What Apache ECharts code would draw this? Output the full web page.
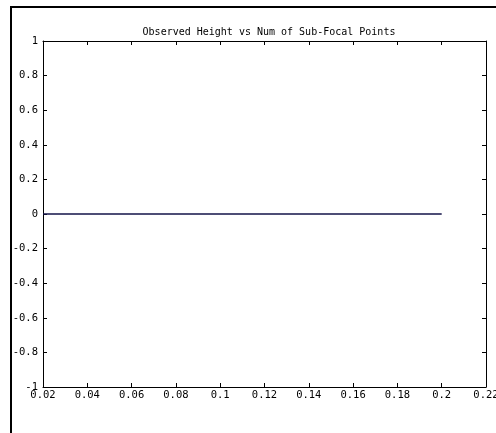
<!DOCTYPE html>
<html><head><meta charset="utf-8">
<script src="https://cdn.jsdelivr.net/npm/echarts@6/dist/echarts.min.js"></script>
<style>html,body{margin:0;padding:0;background:#fff;}#c{width:496px;height:433px;}</style>
</head><body><div id="c"></div>
<script>
const titleText = "Observed Height vs Num of Sub-Focal Points";
const xValues = [0.02, 0.04, 0.06, 0.08, 0.1, 0.12, 0.14, 0.16, 0.18, 0.2];
const heights = [0, 0, 0, 0, 0, 0, 0, 0, 0, 0];
const xTicks = [0.02, 0.22, 0.02]; // min, max, step
const yTicks = [-1, 1, 0.2];

const font = 'DejaVu Sans Mono';
const fmt = v => String(parseFloat(Number(v).toFixed(2)));
const chart = echarts.init(document.getElementById('c'), null, {renderer: 'canvas'});
const axisCommon = {
  axisLine: {show: true, onZero: false, lineStyle: {color: '#000', width: 1}},
  axisTick: {show: true, inside: true, length: 4, lineStyle: {color: '#000'}},
  splitLine: {show: false}
};
chart.setOption({
  animation: false,
  backgroundColor: '#fff',
  title: {text: titleText, left: 264, textAlign: 'center', top: 22,
    textStyle: {fontFamily: font, fontSize: 10, fontWeight: 'normal', color: '#000'}},
  grid: {left: 43, top: 41, right: 10, bottom: 46, containLabel: false, outerBoundsMode: 'none'},
  xAxis: [
    Object.assign({type: 'value', position: 'bottom', min: xTicks[0], max: xTicks[1], interval: xTicks[2],
      axisLabel: {fontFamily: font, fontSize: 10.5, color: '#000', margin: 3, formatter: fmt, showMinLabel: true, showMaxLabel: true}}, axisCommon),
    Object.assign({type: 'value', position: 'top', min: xTicks[0], max: xTicks[1], interval: xTicks[2],
      axisLabel: {show: false}}, axisCommon)
  ],
  yAxis: [
    Object.assign({type: 'value', position: 'left', min: yTicks[0], max: yTicks[1], interval: yTicks[2],
      axisLabel: {fontFamily: font, fontSize: 10.5, color: '#000', margin: 5, formatter: fmt, showMinLabel: true, showMaxLabel: true}}, axisCommon),
    Object.assign({type: 'value', position: 'right', min: yTicks[0], max: yTicks[1], interval: yTicks[2],
      axisLabel: {show: false}}, axisCommon)
  ],
  graphic: [{type: 'rect', shape: {x: 11, y: 7, width: 700, height: 700}, style: {fill: null, stroke: '#000', lineWidth: 2}, silent: true}],
  series: [{type: 'line', data: xValues.map((x, i) => [x, heights[i]]), showSymbol: false, symbol: 'none',
    lineStyle: {color: '#14144a', width: 1.3}}]
});
</script></body></html>
